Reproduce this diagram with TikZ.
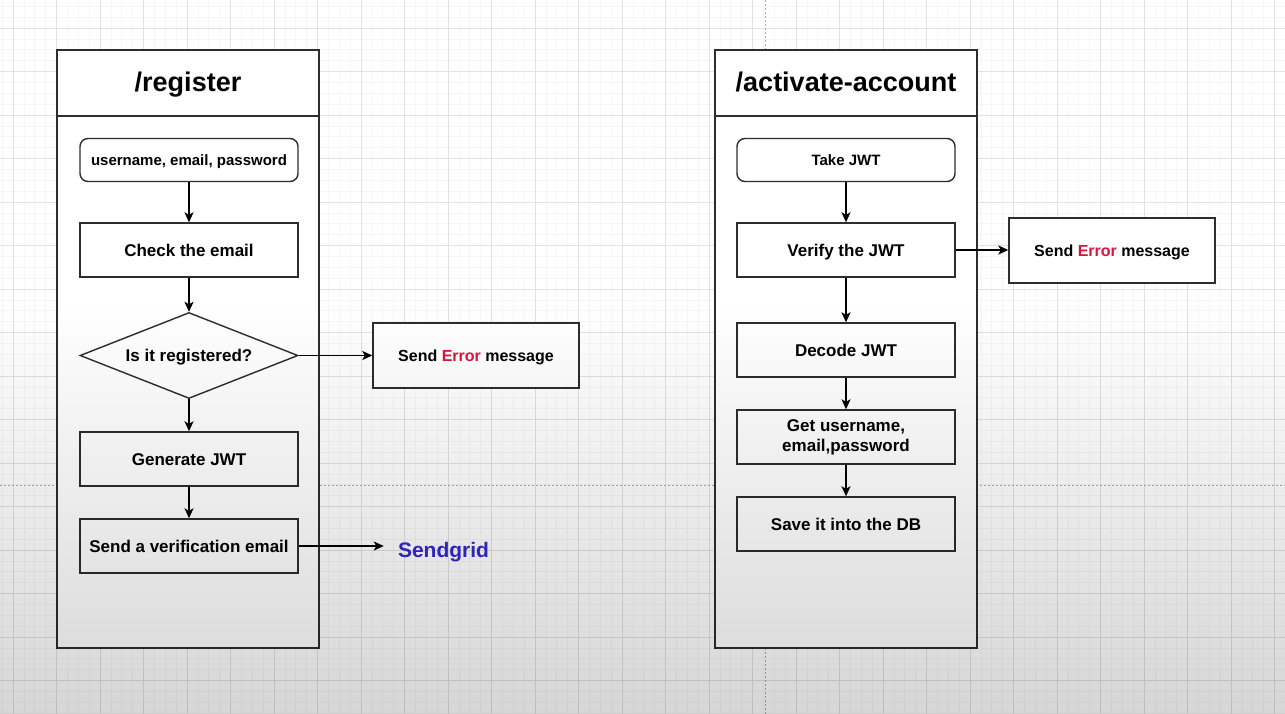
\documentclass[tikz,border=0pt]{standalone}
\usepackage{fontspec}
\setmainfont{Liberation Sans}
\usetikzlibrary{shapes.geometric,arrows.meta,fadings}

\definecolor{linec}{RGB}{45,45,45}
\definecolor{errc}{RGB}{220,20,60}
\definecolor{sgc}{RGB}{50,40,210}
\definecolor{minorc}{RGB}{246,246,246}
\definecolor{majorc}{RGB}{226,226,226}
\definecolor{pagec}{RGB}{170,170,170}

\tikzset{
  minorgrid/.style={draw=minorc, line width=0.6pt},
  majorgrid/.style={draw=majorc, line width=0.8pt},
  pagebreak/.style={draw=pagec, line width=0.7pt, dash pattern=on 2pt off 2pt},
  pool/.style={draw=linec, line width=1.4pt, fill=white, minimum width=262pt, inner sep=0pt},
  pooltitle/.style={pool, minimum height=66pt},
  titletext/.style={inner sep=0pt, text height=20pt, text depth=6pt,
    font=\bfseries\fontsize{27}{32}\selectfont},
  boxbase/.style={draw=linec, line width=1.4pt, fill=white, minimum width=218pt,
    minimum height=54pt, inner sep=0pt, align=center,
    font=\bfseries\fontsize{17}{20}\selectfont},
  stepbox/.style={boxbase, text height=12.3pt, text depth=0pt},
  startbox/.style={boxbase, rounded corners=8pt, minimum height=43pt,
    text height=10.8pt, text depth=0pt,
    font=\bfseries\fontsize{15}{18}\selectfont},
  decision/.style={diamond, draw=linec, line width=1.4pt, fill=white, aspect=2.52,
    minimum width=218pt, minimum height=86pt, inner sep=0pt,
    text height=12.3pt, text depth=0pt,
    font=\bfseries\fontsize{17}{20}\selectfont},
  errbox/.style={boxbase, minimum width=206pt, minimum height=65pt,
    text height=11.6pt, text depth=0pt,
    font=\bfseries\fontsize{16}{19}\selectfont},
  arr/.style={draw=black, line width=1.4pt, -{Stealth[length=10pt,width=9pt,inset=2.5pt]}}
}

\begin{document}
\begin{tikzpicture}[x=1pt,y=-1pt]
\useasboundingbox (0,0) rectangle (1285,714);
\fill[white] (0,0) rectangle (1285,714);

% canvas grid
\foreach \i in {0,...,118}
  \draw[minorgrid] ({2.125+\i*10.875},0) -- ++(0,714);
\foreach \i in {0,...,65}
  \draw[minorgrid] (0,{6.25+\i*10.875}) -- ++(1285,0);
\foreach \i in {0,...,29}
  \draw[majorgrid] ({13+\i*43.5},0) -- ++(0,714);
\foreach \i in {0,...,15}
  \draw[majorgrid] (0,{28+\i*43.5}) -- ++(1285,0);

% page boundaries
\draw[pagebreak] (0,485) -- (1285,485);
\draw[pagebreak] (765,0) -- (765,714);

% ---- /register ----
\node[pool, minimum height=598pt] (regpool) at (188,349) {};
\node[pooltitle] (regtitle) at (188,83) {};
\node[titletext] (regname) at (188,85) {/register};

\node[startbox] (u) at (189,160) {username, email, password};
\node[stepbox] (chk) at (189,250) {Check the email};
\node[decision] (reg) at (189,355.5) {Is it registered?};
\node[stepbox] (gen) at (189,459) {Generate JWT};
\node[stepbox] (mail) at (189,546) {Send a verification email};
\node[errbox] (err1) at (476,355.5) {Send \textcolor{errc}{Error} message};
\node[inner sep=0pt, text height=15pt, text depth=0pt, text=sgc,
  font=\bfseries\fontsize{21}{24}\selectfont] (sg) at (443.5,550) {Sendgrid};

\draw[arr] (u) -- (chk);
\draw[arr] (chk) -- (reg);
\draw[arr] (reg) -- (gen);
\draw[arr] (gen) -- (mail);
\draw[arr] (reg.east) -- (reg.east -| err1.west);
\draw[arr, shorten >=14pt] (mail.east) -- (mail.east -| sg.west);

% ---- /activate-account ----
\node[pool, minimum height=598pt] (actpool) at (846,349) {};
\node[pooltitle] (acttitle) at (846,83) {};
\node[titletext] (actname) at (846,85) {/activate-account};

\node[startbox] (tj) at (846,160) {Take JWT};
\node[stepbox] (vj) at (846,250) {Verify the JWT};
\node[stepbox] (dj) at (846,350) {Decode JWT};
\node[boxbase] (gu) at (846,437) {Get username,\\email,password};
\node[stepbox] (sv) at (846,524) {Save it into the DB};
\node[errbox] (err2) at (1112,250.5) {Send \textcolor{errc}{Error} message};

\draw[arr] (tj) -- (vj);
\draw[arr] (vj) -- (dj);
\draw[arr] (dj) -- (gu);
\draw[arr] (gu) -- (sv);
\draw[arr] (vj.east) -- (vj.east -| err2.west);

% soft shading toward the lower edge
\fill[black, opacity=0.16, path fading=north] (0,300) rectangle (1285,714);
\end{tikzpicture}
\end{document}
